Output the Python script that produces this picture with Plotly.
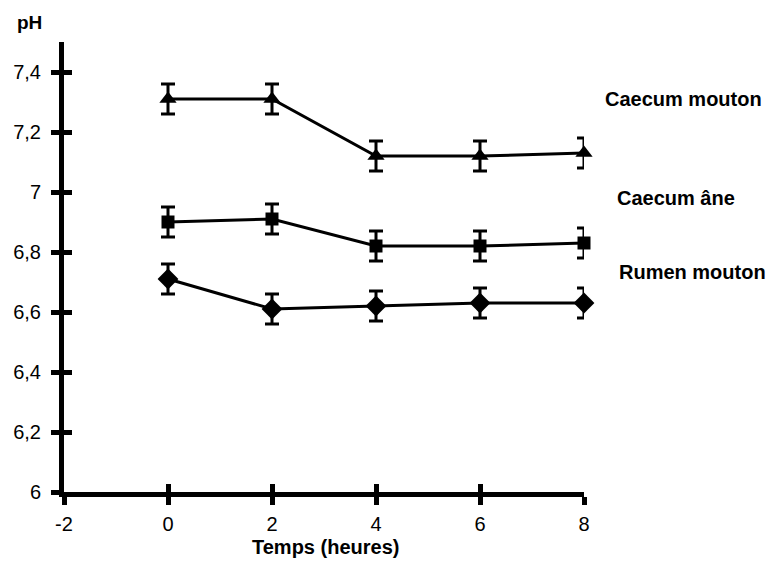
import plotly.graph_objects as go

# Sampling times (hours) and mean pH with standard errors
temps = [0, 2, 4, 6, 8]

caecum_mouton = [7.31, 7.31, 7.12, 7.12, 7.13]
caecum_mouton_err = [0.05, 0.05, 0.05, 0.05, 0.05]

caecum_ane = [6.90, 6.91, 6.82, 6.82, 6.83]
caecum_ane_err = [0.05, 0.05, 0.05, 0.05, 0.05]

rumen_mouton = [6.71, 6.61, 6.62, 6.63, 6.63]
rumen_mouton_err = [0.05, 0.05, 0.05, 0.05, 0.05]

x_ticks = [-2, 0, 2, 4, 6, 8]
y_ticks = [6, 6.2, 6.4, 6.6, 6.8, 7, 7.2, 7.4]
y_tick_text = ["6", "6,2", "6,4", "6,6", "6,8", "7", "7,2", "7,4"]

FONT = "Liberation Sans, Arial, sans-serif"
INK = "#000000"

series = [
    ("Caecum mouton", caecum_mouton, caecum_mouton_err, "triangle-up", 15),
    ("Caecum âne", caecum_ane, caecum_ane_err, "square", 13),
    ("Rumen mouton", rumen_mouton, rumen_mouton_err, "diamond", 16),
]

fig = go.Figure()
for name, vals, errs, symbol, msize in series:
    fig.add_trace(go.Scatter(
        x=temps, y=vals, name=name, mode="lines+markers",
        line=dict(color=INK, width=3),
        marker=dict(symbol=symbol, size=msize, color=INK),
        error_y=dict(type="data", array=errs, visible=True,
                     color=INK, thickness=3, width=7),
        showlegend=False, cliponaxis=False,
    ))

# empty trace on the overlay axes, which draw the inner half of each tick
fig.add_trace(go.Scatter(x=[-2, 8], y=[6, 7.5], xaxis="x2", yaxis="y2",
                         mode="markers", marker=dict(opacity=0),
                         showlegend=False, hoverinfo="skip"))

tickfont = dict(family=FONT, size=20, color=INK)

fig.update_layout(
    width=774, height=561,
    margin=dict(l=64, r=190, t=42, b=69),
    paper_bgcolor="white", plot_bgcolor="white",
    xaxis=dict(range=[-2, 8], tickvals=x_ticks, ticktext=[str(v) for v in x_ticks],
               showline=True, linewidth=5, linecolor=INK, mirror=False,
               ticks="outside", ticklen=8, tickwidth=5, tickcolor=INK,
               ticklabelstandoff=2, showgrid=False, zeroline=False,
               tickfont=tickfont),
    yaxis=dict(range=[6, 7.5], tickvals=y_ticks, ticktext=y_tick_text,
               showline=True, linewidth=5, linecolor=INK,
               ticks="outside", ticklen=8, tickwidth=5, tickcolor=INK,
               ticklabelstandoff=6, showgrid=False, zeroline=False,
               tickfont=tickfont),
    xaxis2=dict(range=[-2, 8], tickvals=x_ticks, overlaying="x", side="bottom",
                anchor="y2", ticks="inside", ticklen=8, tickwidth=5, tickcolor=INK,
                showticklabels=False, showline=False, showgrid=False, zeroline=False),
    yaxis2=dict(range=[6, 7.5], tickvals=y_ticks, overlaying="y", side="left",
                anchor="x2", ticks="inside", ticklen=8, tickwidth=5, tickcolor=INK,
                showticklabels=False, showline=False, showgrid=False, zeroline=False),
)

bold = dict(family=FONT, size=20, color=INK)
labels = [
    ("Caecum mouton", 1.037, 0.873),
    ("Caecum âne", 1.060, 0.653),
    ("Rumen mouton", 1.063, 0.489),
]
for text, xp, yp in labels:
    fig.add_annotation(text="<b>%s</b>" % text, xref="paper", yref="paper",
                       x=xp, y=yp, xanchor="left", yanchor="middle",
                       showarrow=False, font=bold)

fig.add_annotation(text="<b>pH</b>", xref="paper", yref="paper",
                   x=-0.067, y=1.044, xanchor="center", yanchor="middle",
                   showarrow=False, font=dict(family=FONT, size=19, color=INK))
fig.add_annotation(text="<b>Temps (heures)</b>", xref="paper", yref="paper",
                   x=0.502, y=-0.122, xanchor="center", yanchor="middle",
                   showarrow=False, font=dict(family=FONT, size=20, color=INK))

fig.write_html("out.html")
